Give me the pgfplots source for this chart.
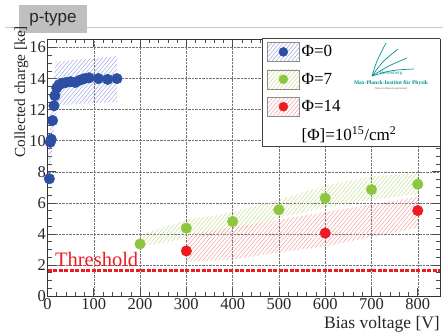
\documentclass[border=0pt]{standalone}
\usepackage{pgfplots}
\pgfplotsset{compat=1.18}
\usepackage{fontspec}
\setmainfont{Liberation Serif}
\setsansfont{Liberation Sans}
\usetikzlibrary{patterns.meta}
\definecolor{mblue}{RGB}{44,79,163}
\definecolor{mgreen}{RGB}{141,198,63}
\definecolor{mred}{RGB}{237,28,36}
\definecolor{hblue}{RGB}{160,166,228}
\definecolor{hgreen}{RGB}{200,222,150}
\definecolor{hred}{RGB}{246,160,160}
\definecolor{logoteal}{RGB}{0,150,140}
\begin{document}
\begin{tikzpicture}
\path[use as bounding box] (0pt,0pt) rectangle (443pt,334pt);
\draw[black!22, line width=0.8pt] (5pt,307pt) -- (443pt,307pt);
\fill[black!25] (19pt,301pt) rectangle (87pt,329pt);
\node[font=\sffamily\fontsize{17}{20}\selectfont, text=black!85] at (53pt,315pt) {p-type};
\begin{axis}[
  at={(47.5pt,38pt)}, anchor=south west, scale only axis,
  width=392.5pt, height=257pt,
  xmin=0, xmax=848, ymin=0, ymax=16.55,
  xtick={0,100,...,800}, ytick={0,2,...,16},
  minor x tick num=4, minor y tick num=3,
  tick align=inside, tick pos=both, ticklabel pos=left,
  major tick length=8pt, minor tick length=4pt,
  grid=major, major grid style={densely dotted, black!55, line width=0.5pt},
  axis line style={black!80, line width=0.9pt},
  tick style={black!70, line width=0.6pt},
  /pgf/number format/assume math mode=true,
  tick label style={font=\fontsize{16.5}{19}\selectfont, text=black!85},
  yticklabel style={inner xsep=1.5pt},
  xticklabel style={inner ysep=2pt},
  xlabel={Bias voltage [V]},
  xlabel style={at={(rel axis cs:1,0)}, anchor=base east, yshift=-32.3pt, inner sep=0pt, font=\fontsize{17.5}{20}\selectfont, text=black!85},
  ylabel={Collected charge [ke]},
  ylabel style={at={(rel axis cs:0,0.795)}, anchor=base, yshift=22.5pt, inner sep=0pt, font=\fontsize{15.3}{18}\selectfont, text=black!85},
  legend style={at={(0.5465,1)}, anchor=north west, draw=none, fill=none,
    font=\fontsize{17}{20}\selectfont, inner xsep=5pt, inner ysep=3pt, row sep=8pt,
    nodes={inner ysep=2pt}},
  legend cell align=left,
]
% bands
\addplot[draw=none, forget plot, pattern={Lines[angle=50,distance=3pt,line width=0.5pt]}, pattern color=hblue]
  coordinates {(18,15.1) (150,15.45) (150,12.5) (22,12.3) (14,11.0) (10,9.0) (6,8.5) (2,8.6) (4,10.5) (8,12.5) (12,13.5)} -- cycle;
\addplot[draw=none, forget plot, pattern={Lines[angle=50,distance=3pt,line width=0.5pt]}, pattern color=hgreen]
  coordinates {(200,3.95) (300,4.9) (400,5.4) (500,6.2) (600,7.1) (700,7.7) (800,7.9) (800,6.55) (700,6.2) (600,5.7) (500,5.0) (400,4.05) (300,3.7) (200,3.2)} -- cycle;
\addplot[draw=none, forget plot, pattern={Lines[angle=50,distance=3pt,line width=0.5pt]}, pattern color=hred]
  coordinates {(300,3.95) (400,4.4) (500,4.9) (600,5.4) (700,5.9) (800,6.4) (800,4.4) (700,3.8) (600,3.2) (500,2.8) (400,2.35) (300,2.2)} -- cycle;
% threshold
\addplot[forget plot, mred, line width=2.8pt, dash pattern=on 4pt off 1.5pt] coordinates {(0,1.63) (848,1.63)};
% points
\addplot[forget plot, only marks, mark=*, mark size=5.3pt, mark options={draw=mblue, fill=mblue}]
  coordinates {(4,7.55) (6,9.9) (8,10.1) (11,11.3) (14,12.25) (16,12.9) (20,13.4) (25,13.6) (32,13.7) (40,13.75) (50,13.8) (60,13.75) (70,13.9) (80,14.0) (90,14.05) (110,14.0) (130,13.95) (150,14.0)};
\addplot[forget plot, only marks, mark=*, mark size=5.3pt, mark options={draw=mgreen, fill=mgreen}]
  coordinates {(200,3.35) (300,4.37) (400,4.8) (500,5.55) (600,6.3) (700,6.85) (800,7.2)};
\addplot[forget plot, only marks, mark=*, mark size=5.3pt, mark options={draw=mred, fill=mred}]
  coordinates {(300,2.9) (600,4.05) (800,5.5)};
\node[anchor=base west, inner sep=0pt, text=mred, font=\fontsize{20.5}{24}\selectfont] at (axis cs:16,1.89) {Threshold};
% legend frame
\draw[fill=white, draw=black!75, line width=1pt] (rel axis cs:0.5465,1) rectangle (rel axis cs:1,0.58);
\addlegendimage{legend image code/.code={
  \draw[black!45, pattern={Lines[angle=50,distance=3pt,line width=0.5pt]}, pattern color=hblue] (0pt,-9.5pt) rectangle (32pt,9.5pt);
  \fill[mblue] (16pt,0pt) circle (4.5pt);}}
\addlegendentry{Φ=0}
\addlegendimage{legend image code/.code={
  \draw[black!45, pattern={Lines[angle=50,distance=3pt,line width=0.5pt]}, pattern color=hgreen] (0pt,-9.5pt) rectangle (32pt,9.5pt);
  \fill[mgreen] (16pt,0pt) circle (4.5pt);}}
\addlegendentry{Φ=7}
\addlegendimage{legend image code/.code={
  \draw[black!45, pattern={Lines[angle=50,distance=3pt,line width=0.5pt]}, pattern color=hred] (0pt,-9.5pt) rectangle (32pt,9.5pt);
  \fill[mred] (16pt,0pt) circle (4.5pt);}}
\addlegendentry{Φ=14}
\addlegendimage{draw=none, legend image code/.code={\path[draw=none, fill=none] (0pt,-6pt) rectangle (32pt,6pt);}}
\addlegendentry{[Φ]=10\textsuperscript{15}/cm\textsuperscript{2}}
\end{axis}
% logo
\begin{scope}[logoteal, line width=0.7pt]
\draw (372pt,258pt) .. controls (377pt,274pt) .. (386pt,291pt);
\draw (372pt,258pt) .. controls (388pt,268pt) .. (407pt,276pt);
\draw (372pt,258pt) .. controls (392pt,264pt) .. (414pt,265pt);
\draw (372pt,258pt) .. controls (382pt,272pt) .. (398pt,285pt);
\end{scope}
\node[text=logoteal, font=\fontsize{5}{6}\selectfont\itshape] at (391pt,261pt) {Heisenberg};
\node[text=logoteal, font=\fontsize{5.5}{6}\selectfont\bfseries] at (391pt,251pt) {Max-Planck-Institut für Physik};
\node[text=black!60, font=\fontsize{2.8}{3}\selectfont] at (391pt,245.5pt) {(Werner-Heisenberg-Institut)};
\end{tikzpicture}
\end{document}
